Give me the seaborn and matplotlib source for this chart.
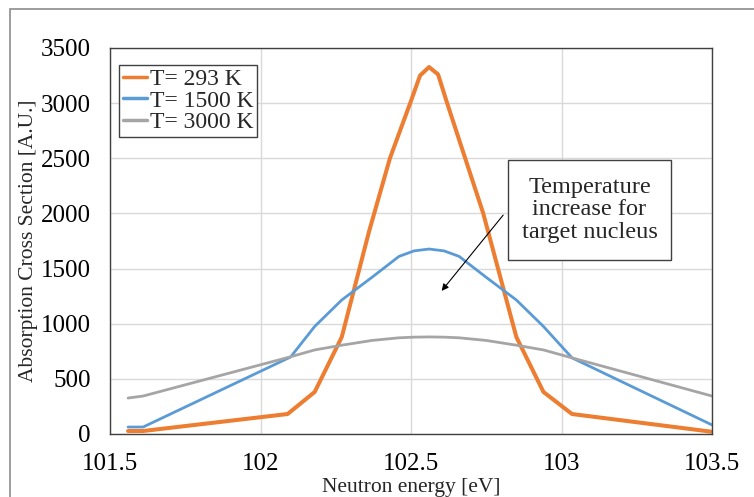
import numpy as np
import pandas as pd
import matplotlib
matplotlib.use("Agg")
import matplotlib.pyplot as plt
from matplotlib.patches import Rectangle
import seaborn as sns

# -------------------
# Data
# -------------------
energy = [101.56, 101.61, 102.09, 102.18, 102.27, 102.36, 102.43, 102.50,
          102.53, 102.56, 102.59, 102.62, 102.68, 102.74, 102.85, 102.94,
          103.035, 103.5]
sigma_293 = [27, 27, 181, 381, 879, 1830, 2500, 3020,
             3250, 3327, 3260, 3000, 2500, 2000, 879, 381,
             181, 20]

energy_hot = [101.56, 101.61, 102.1, 102.18, 102.27, 102.37, 102.46, 102.51,
              102.56, 102.61, 102.66, 102.75, 102.85, 102.94, 103.035, 103.5]
sigma_1500 = [63, 63, 698, 975, 1215, 1420, 1610, 1660,
              1677, 1660, 1610, 1420, 1215, 975, 690, 82]
sigma_3000 = [326, 344, 700, 762, 805, 848, 872, 878,
              880, 878, 872, 848, 805, 762, 690, 344]

labels = ["T= 293 K", "T= 1500 K", "T= 3000 K"]
colors = ["#ED7D31", "#5B9BD5", "#A5A5A5"]

x_ticks = [101.5, 102, 102.5, 103, 103.5]
x_ticklabels = ["101.5", "102", "102.5", "103", "103.5"]
y_ticks = [0, 500, 1000, 1500, 2000, 2500, 3000, 3500]

note = "Temperature\nincrease for\ntarget nucleus"

# -------------------
# Style
# -------------------
sns.set_style("whitegrid")
plt.rcParams["font.family"] = ["Liberation Serif", "DejaVu Serif"]

fig = plt.figure(figsize=(7.54, 4.97), dpi=100)
ax = fig.add_axes([0.1459, 0.1268, 0.7984, 0.7767])

sns.lineplot(x=energy, y=sigma_293, ax=ax, color=colors[0], linewidth=2.9,
             label=labels[0], sort=False)
sns.lineplot(x=energy_hot, y=sigma_1500, ax=ax, color=colors[1], linewidth=2.0,
             label=labels[1], sort=False)
sns.lineplot(x=energy_hot, y=sigma_3000, ax=ax, color=colors[2], linewidth=2.0,
             label=labels[2], sort=False)

ax.set_xlim(101.5, 103.5)
ax.set_ylim(0, 3500)
ax.set_xticks(x_ticks)
ax.set_xticklabels(x_ticklabels)
ax.set_yticks(y_ticks)
ax.tick_params(axis="both", length=0, labelsize=18, colors="black")
ax.tick_params(axis="x", pad=14)
ax.tick_params(axis="y", pad=14)
ax.grid(True, color="#d9d9d9", linewidth=1.0)
for s in ax.spines.values():
    s.set_visible(True)
    s.set_color("#404040")
    s.set_linewidth(1.0)

ax.set_xlabel("Neutron energy [eV]", fontsize=15.5, labelpad=1.5)
ax.set_ylabel("Absorption Cross Section [A.U.]", fontsize=15.5, labelpad=2)

leg = ax.legend(loc="upper left", bbox_to_anchor=(0.015, 0.956), borderaxespad=0,
                fontsize=17, frameon=True, fancybox=False, framealpha=1,
                handlelength=1.05, handletextpad=0.1, labelspacing=0.0,
                borderpad=0.15)
leg.get_frame().set_edgecolor("#404040")
leg.get_frame().set_linewidth(1.0)
for h in leg.get_lines():
    h.set_linewidth(2.5)

# annotation box + arrow
ax.add_patch(Rectangle((102.822, 1578), 0.542, 906, facecolor="white",
                       edgecolor="#404040", linewidth=1.0, zorder=5))
ax.text(103.093, 2031, note, ha="center", va="center", fontsize=17.5,
        linespacing=1.1, zorder=6)
ax.annotate("", xy=(102.596, 1278), xytext=(102.812, 2004),
            arrowprops=dict(arrowstyle="-|>", color="black", lw=0.8,
                            mutation_scale=10), zorder=6)

# outer chart border (cropped on right/bottom like the reference)
fig.patches.append(Rectangle((10 / 754, -0.1), 1.2, 1 - 9 / 497 + 0.1,
                             transform=fig.transFigure, fill=False,
                             edgecolor="#8c8c8c", linewidth=1.2))

fig.savefig("out.png", dpi=100)
